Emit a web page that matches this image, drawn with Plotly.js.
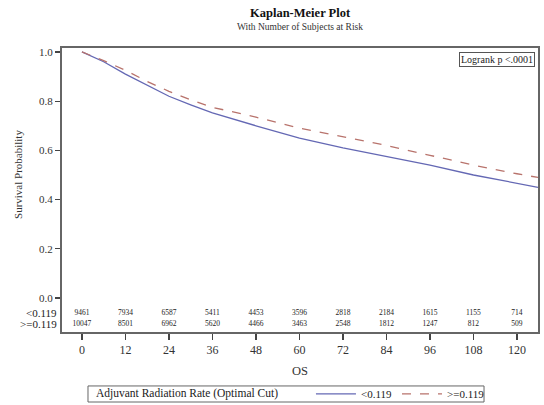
<!DOCTYPE html>
<html>
<head>
<meta charset="utf-8">
<script src="https://cdn.plot.ly/plotly-3.0.1.min.js"></script>
<style>html,body{margin:0;padding:0;background:#fff;}#chart{width:544px;height:405px;}</style>
</head>
<body>
<div id="chart"></div>
<script>
// Survival curves
const timesLow  = [0, 6, 12, 18, 24, 30, 36, 48, 60, 72, 84, 96, 108, 120, 125.8];
const survLow   = [1.0, 0.96, 0.91, 0.865, 0.82, 0.785, 0.752, 0.70, 0.65, 0.61, 0.575, 0.54, 0.50, 0.465, 0.45];
const timesHigh = [0, 6, 12, 18, 24, 30, 36, 48, 60, 72, 84, 96, 108, 120, 125.8];
const survHigh  = [1.0, 0.965, 0.925, 0.88, 0.84, 0.805, 0.775, 0.735, 0.69, 0.655, 0.62, 0.58, 0.54, 0.505, 0.49];

// Number at risk
const riskTimes = [0, 12, 24, 36, 48, 60, 72, 84, 96, 108, 120];
const riskLow   = [9461, 7934, 6587, 5411, 4453, 3596, 2818, 2184, 1615, 1155, 714];
const riskHigh  = [10047, 8501, 6962, 5620, 4466, 3463, 2548, 1812, 1247, 812, 509];
const groupLabels = ['<0.119', '>=0.119'];
const yTicks = [0, 0.2, 0.4, 0.6, 0.8, 1.0];
const xTicks = [0, 12, 24, 36, 48, 60, 72, 84, 96, 108, 120];

const FONT = 'Liberation Serif, Times New Roman, serif';
const blue = '#6468b4';
const red = '#b8736c';

const traces = [
  {x: timesLow, y: survLow, type: 'scatter', mode: 'lines', name: groupLabels[0],
   line: {color: blue, width: 1.3}, hoverinfo: 'skip'},
  {x: timesHigh, y: survHigh, type: 'scatter', mode: 'lines', name: groupLabels[1],
   line: {color: red, width: 1.3, dash: 'dash'}, hoverinfo: 'skip'},
  {x: riskTimes, y: riskTimes.map(() => -0.061), type: 'scatter', mode: 'text',
   text: riskLow.map(String), textfont: {family: FONT, size: 7.5, color: '#222'},
   showlegend: false, hoverinfo: 'skip', cliponaxis: false},
  {x: riskTimes, y: riskTimes.map(() => -0.106), type: 'scatter', mode: 'text',
   text: riskHigh.map(String), textfont: {family: FONT, size: 7.5, color: '#222'},
   showlegend: false, hoverinfo: 'skip', cliponaxis: false}
];

const layout = {
  width: 544, height: 405,
  margin: {l: 62, r: 6, t: 48, b: 73, autoexpand: false},
  paper_bgcolor: '#fff', plot_bgcolor: '#fff',
  font: {family: FONT, color: '#333', size: 11},
  showlegend: true,
  xaxis: {
    range: [-5.5, 125.8], tickvals: xTicks, ticktext: xTicks.map(String),
    showgrid: false, zeroline: false, ticks: 'outside', ticklen: 6, tickwidth: 1.3,
    tickcolor: '#444', showline: true, mirror: true, linecolor: '#666', linewidth: 2,
    tickfont: {family: FONT, size: 12, color: '#333'}
  },
  yaxis: {
    range: [-0.138, 1.016], tickvals: yTicks, ticktext: yTicks.map(v => v.toFixed(1)),
    showgrid: false, zeroline: false, ticks: 'outside', ticklen: 5, tickwidth: 1.3,
    tickcolor: '#444', showline: true, mirror: true, linecolor: '#666', linewidth: 2,
    tickfont: {family: FONT, size: 11, color: '#333'}
  },
  legend: {
    orientation: 'h', x: 0.523, xanchor: 'left', y: -0.218, yanchor: 'middle',
    borderwidth: 0, bgcolor: 'rgba(0,0,0,0)',
    font: {family: FONT, size: 11, color: '#222'},
    itemwidth: 40, tracegroupgap: 0
  },
  shapes: [
    {type: 'rect', xref: 'paper', yref: 'paper', x0: 0.0546, x1: 0.8866, y0: -0.2465, y1: -0.190,
     line: {color: '#666', width: 1}, fillcolor: 'rgba(0,0,0,0)'}
  ],
  annotations: [
    {text: '<b>Kaplan-Meier Plot</b>', xref: 'paper', yref: 'paper', x: 0.5, y: 1, yshift: 35,
     showarrow: false, font: {family: FONT, size: 12.5, color: '#111'}, yanchor: 'middle'},
    {text: 'With Number of Subjects at Risk', xref: 'paper', yref: 'paper', x: 0.5, y: 1, yshift: 21,
     showarrow: false, font: {family: FONT, size: 9.5, color: '#333'}, yanchor: 'middle'},
    {text: 'Logrank p <.0001', xref: 'paper', yref: 'paper', x: 0.993, y: 0.985,
     xanchor: 'right', yanchor: 'top', showarrow: false, bordercolor: '#555', borderwidth: 1,
     borderpad: 1, bgcolor: '#fff', font: {family: FONT, size: 10, color: '#222'}},
    {text: 'Survival Probability', xref: 'paper', yref: 'y', x: 0, xshift: -52, y: 0.5,
     textangle: -90, showarrow: false, font: {family: FONT, size: 11, color: '#333'}},
    {text: groupLabels[0], xref: 'paper', yref: 'y', x: 0, xshift: -3, y: -0.061,
     xanchor: 'right', showarrow: false, font: {family: FONT, size: 11, color: '#222'}},
    {text: groupLabels[1], xref: 'paper', yref: 'y', x: 0, xshift: -3, y: -0.106,
     xanchor: 'right', showarrow: false, font: {family: FONT, size: 11, color: '#222'}},
    {text: 'OS', xref: 'paper', yref: 'paper', x: 0.5, y: -0.137, yanchor: 'middle',
     showarrow: false, font: {family: FONT, size: 12.5, color: '#333'}},
    {text: 'Adjuvant Radiation Rate (Optimal Cut)', xref: 'paper', yref: 'paper', x: 0.067, y: -0.218,
     xanchor: 'left', yanchor: 'middle', showarrow: false, font: {family: FONT, size: 11.5, color: '#222'}}
  ]
};

Plotly.newPlot('chart', traces, layout, {staticPlot: true, displayModeBar: false});
</script>
</body>
</html>
